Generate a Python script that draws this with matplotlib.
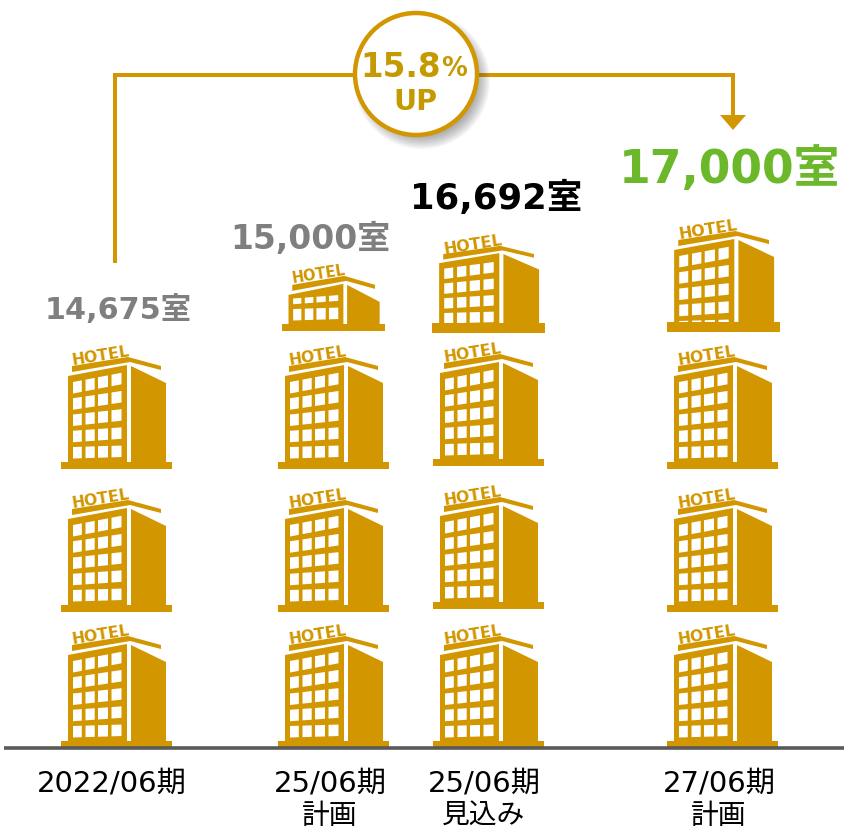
import matplotlib
matplotlib.use("Agg")
import matplotlib.pyplot as plt
from matplotlib.patches import Circle, Polygon, Rectangle

plt.rcParams['font.family'] = ['DejaVu Sans', 'Noto Sans CJK JP']

categories = ["2022/06期", "25/06期\n計画", "25/06期\n見込み", "27/06期\n計画"]
rooms = [14675, 15000, 16692, 17000]
growth_label = "15.8"
growth_unit = "%"
growth_word = "UP"

label_colors = ["#7F7F7F", "#7F7F7F", "#000000", "#6BB82A"]
label_sizes = [21.8, 23.7, 25.5, 32.9]
label_x = [118, 310, 496, 729]
label_y = [310, 239, 198, 170]
cat_x = [112, 330, 484, 719]

GOLD = "#D29600"
TEXT_GOLD = "#C49A00"

# full icons per column: left edge, base bottoms
col_left = [61, 278, 433, 667]
col_bases = [[749, 613, 470], [749, 613, 470], [749, 610, 467], [749, 613, 470]]
# cut-down icon on top of a column: left, base bottom, window rows, sink, sx, sy, base height
top_icons = [None,
             (282, 332, 1.5, 0, 0.93, 1.0, 7),
             (432, 334, 4, 0, 1.02, 0.91, 10),
             (667, 333, 5, 11, 1.02, 1.0, 10)]

# window columns inside the front face: left edge, width
win_cols = [(12.0, 8.8), (24.5, 9.2), (37.0, 10.0), (50.5, 10.0)]


def hotel(ax, left, bottom, rows=5, sink=0, sx=1.0, sy=1.0, base_h=7):
    drop = (5 - rows) * 16.25
    px = lambda x: left + x * sx
    py = lambda y: bottom + (y + drop) * sy + sink
    yy = lambda y: bottom + y * sy + sink
    clip = Rectangle((left, bottom - 200), 130, 200, transform=ax.transData)

    parts = [
        Polygon([(px(7), yy(-7)), (px(66), yy(-7)), (px(66), py(-104)), (px(7), py(-93))],
                fc=GOLD, ec="none"),
        Polygon([(px(70), yy(-7)), (px(105), yy(-7)), (px(105), py(-86)), (px(70), py(-103))],
                fc=GOLD, ec="none"),
        Polygon([(px(11), py(-103)), (px(67), py(-112)), (px(100), py(-103)), (px(100), py(-99)),
                 (px(69), py(-107)), (px(11), py(-97))], fc=GOLD, ec="none"),
    ]
    # window rows, the bottom row first; a fractional top row comes out shorter
    k = 0
    while k < rows:
        h = 11.5 * min(1, rows - k)
        slope = 0.03 + 0.04 * k
        for wx, ww in win_cols:
            y0 = -10.5 - k * 16.25 - (wx - 12) * slope
            parts.append(Polygon([(px(wx), yy(y0 - h)), (px(wx + ww), yy(y0 - h - ww * slope)),
                                  (px(wx + ww), yy(y0 - ww * slope)), (px(wx), yy(y0))],
                                 fc="white", ec="none"))
        k += 1
    for p in parts:
        ax.add_patch(p)
        p.set_clip_path(clip)
    ax.add_patch(Rectangle((left, bottom - base_h), 111 * sx, base_h, fc=GOLD, ec="none", zorder=3))
    ax.text(px(40), py(-114.5), "HOTEL", fontsize=11.3 * sx, fontweight="bold", color=GOLD,
            ha="center", va="center", rotation=9, rotation_mode="anchor")


fig = plt.figure(figsize=(8.44, 8.29), dpi=100)
ax = fig.add_axes([0, 0, 1, 1])
ax.set_xlim(0, 844)
ax.set_ylim(829, 0)
ax.axis("off")

for left, bases, top in zip(col_left, col_bases, top_icons):
    for b in bases:
        hotel(ax, left, b)
    if top is not None:
        hotel(ax, top[0], top[1], rows=top[2], sink=top[3], sx=top[4], sy=top[5], base_h=top[6])

# baseline
ax.plot([4, 844], [749, 749], color="#595959", lw=2.6, solid_capstyle="butt", zorder=4)

# bracket and arrow
ax.plot([115, 115, 733, 733], [264, 75.5, 75.5, 117], color=GOLD, lw=2.9, solid_joinstyle="miter", solid_capstyle="butt")
ax.add_patch(Polygon([(720, 116), (746, 116), (733, 131)], fc=GOLD, ec="none"))

# soft shadow behind the circle
for i in range(14):
    ax.add_patch(Circle((422, 82), 68 - i * 1.1, fc="#404040", ec="none", alpha=0.04, zorder=5))
ax.add_patch(Circle((416, 75), 61, fc="white", ec=GOLD, lw=3.2, zorder=6))
ax.text(401, 67, growth_label, fontsize=23.5, fontweight="bold", color=TEXT_GOLD, ha="center", va="center", zorder=7)
ax.text(454, 69, growth_unit, fontsize=18.5, fontweight="bold", color=TEXT_GOLD, ha="center", va="center", zorder=7)
ax.text(415, 102, growth_word, fontsize=20.5, fontweight="bold", color=TEXT_GOLD, ha="center", va="center", zorder=7)

for v, c, s, x, y in zip(rooms, label_colors, label_sizes, label_x, label_y):
    ax.text(x, y, f"{v:,}室", fontsize=s, fontweight="bold", color=c, ha="center", va="center")

for name, x in zip(categories, cat_x):
    lines = name.split("\n")
    ax.text(x, 784, lines[0], fontsize=21, color="#000000", ha="center", va="center")
    if len(lines) > 1:
        ax.text(x, 816, lines[1], fontsize=20, color="#000000", ha="center", va="center")

fig.savefig("out.png", dpi=100)
